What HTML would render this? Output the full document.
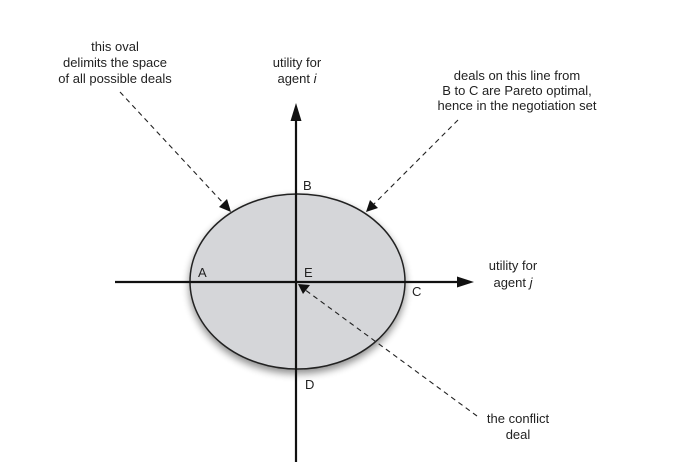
<!DOCTYPE html>
<html><head><meta charset="utf-8"><style>
html,body{margin:0;padding:0;background:#fff;}
svg{display:block;}
text{font-family:"Liberation Sans",sans-serif;font-size:13px;fill:#222;}
</style></head><body>
<svg width="674" height="476" viewBox="0 0 674 476">
<defs>
<filter id="sh" x="-20%" y="-20%" width="140%" height="150%">
<feGaussianBlur in="SourceAlpha" stdDeviation="4"/>
<feOffset dx="0" dy="4" result="b"/>
<feComponentTransfer><feFuncA type="linear" slope="0.45"/></feComponentTransfer>
<feMerge><feMergeNode/><feMergeNode in="SourceGraphic"/></feMerge>
</filter>
</defs>
<ellipse cx="297.5" cy="281.5" rx="107.5" ry="87.5" fill="#d5d6d9" stroke="#222" stroke-width="1.5" filter="url(#sh)"/>
<line x1="296" y1="118" x2="296" y2="462" stroke="#111" stroke-width="2.2"/>
<polygon points="296,103 290.5,121 301.5,121" fill="#111"/>
<line x1="115" y1="282" x2="460" y2="282" stroke="#111" stroke-width="2.2"/>
<polygon points="474,282 457,276.5 457,287.5" fill="#111"/>
<g stroke="#222" stroke-width="1.1" stroke-dasharray="5,4" fill="none">
<line x1="120" y1="92" x2="224" y2="204"/>
<line x1="458" y1="120" x2="373" y2="205"/>
<line x1="477" y1="416" x2="304" y2="289"/>
</g>
<polygon points="231,212 219,207 227,199" fill="#111"/>
<polygon points="366,212 370,200 378,208" fill="#111"/>
<polygon points="298,284 310,285 303,294" fill="#111"/>
<text x="198" y="277">A</text>
<text x="303" y="190">B</text>
<text x="412" y="296">C</text>
<text x="305" y="389">D</text>
<text x="304" y="277">E</text>
<g text-anchor="middle">
<text x="115"><tspan x="115" y="51">this oval</tspan><tspan x="115" y="67">delimits the space</tspan><tspan x="115" y="83">of all possible deals</tspan></text>
<text><tspan x="297" y="67">utility for</tspan><tspan x="297" y="83">agent <tspan font-style="italic">i</tspan></tspan></text>
<text><tspan x="517" y="80">deals on this line from</tspan><tspan x="517" y="95">B to C are Pareto optimal,</tspan><tspan x="517" y="110">hence in the negotiation set</tspan></text>
<text><tspan x="513" y="270">utility for</tspan><tspan x="513" y="287">agent <tspan font-style="italic">j</tspan></tspan></text>
<text><tspan x="518" y="423">the conflict</tspan><tspan x="518" y="439">deal</tspan></text>
</g>
</svg>
</body></html>
